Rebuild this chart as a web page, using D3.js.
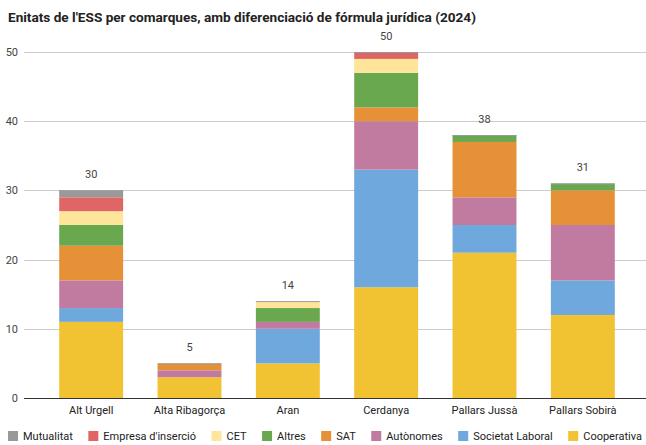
<!DOCTYPE html>
<html>
<head>
<meta charset="utf-8">
<script src="https://cdn.jsdelivr.net/npm/d3@7"></script>
<style>
  body { margin: 0; background: #fff; }
  svg { font-family: Roboto, "Noto Sans", sans-serif; display: block; }
</style>
</head>
<body>
<svg id="chart" width="646" height="445"></svg>
<script>
// Data
const comarques = ["Alt Urgell", "Alta Ribagorça", "Aran", "Cerdanya", "Pallars Jussà", "Pallars Sobirà"];
const formules = ["Cooperativa", "Societat Laboral", "Autònomes", "SAT", "Altres", "CET", "Empresa d'inserció", "Mutualitat"];
const cooperativa     = [11, 3, 5, 16, 21, 12];
const societatLaboral = [2, 0, 5, 17, 4, 5];
const autonomes       = [4, 1, 1, 7, 4, 8];
const sat             = [5, 1, 0, 2, 8, 5];
const altres          = [3, 0, 2, 5, 1, 1];
const cet             = [2, 0, 1, 2, 0, 0];
const empresaInsercio = [2, 0, 0, 1, 0, 0];
const mutualitat      = [1, 0, 0, 0, 0, 0];
const yTicks = [0, 10, 20, 30, 40, 50];
const colours = ["#f1c232", "#6fa8dc", "#c27ba0", "#e69138", "#6aa84f", "#ffe599", "#e06666", "#999999"];

const seriesValues = [cooperativa, societatLaboral, autonomes, sat, altres, cet, empresaInsercio, mutualitat];
const rows = comarques.map((c, i) => {
  const r = { comarca: c };
  formules.forEach((f, j) => r[f] = seriesValues[j][i]);
  return r;
});
const totals = rows.map(r => d3.sum(formules, f => r[f]));

const svg = d3.select("#chart");
const margin = { top: 52, bottom: 47, left: 42, right: 14 };
const width = 646, height = 445;

const xScale = d3.scaleBand()
  .domain(comarques)
  .range([margin.left, width - margin.right])
  .paddingInner(0.35)
  .paddingOuter(0.175);

const yScale = d3.scaleLinear()
  .domain([0, 50])
  .range([height - margin.bottom, margin.top]);

const colourScale = d3.scaleOrdinal().domain(formules).range(colours);

// Title
svg.append("text")
  .attr("x", 8)
  .attr("y", 22)
  .attr("font-size", 13.6)
  .attr("font-weight", "bold")
  .attr("fill", "#222")
  .text("Enitats de l'ESS per comarques, amb diferenciació de fórmula jurídica (2024)");

// Gridlines and y labels
const grid = svg.append("g");
grid.selectAll("line")
  .data(yTicks)
  .join("line")
    .attr("x1", 24)
    .attr("x2", 646)
    .attr("y1", d => Math.round(yScale(d)) + 0.5)
    .attr("y2", d => Math.round(yScale(d)) + 0.5)
    .attr("stroke", d => d === 0 ? "#333" : "#ccc")
    .attr("stroke-width", 1);

grid.selectAll("text")
  .data(yTicks)
  .join("text")
    .attr("x", 18)
    .attr("y", d => yScale(d) + 4)
    .attr("text-anchor", "end")
    .attr("font-size", 11)
    .attr("fill", "#444")
    .text(d => d);

// Stacked bars
const series = d3.stack().keys(formules)(rows);
svg.append("g")
  .selectAll("g")
  .data(series)
  .join("g")
    .attr("fill", d => colourScale(d.key))
  .selectAll("rect")
  .data(d => d)
  .join("rect")
    .attr("x", d => xScale(d.data.comarca))
    .attr("y", d => yScale(d[1]))
    .attr("height", d => yScale(d[0]) - yScale(d[1]))
    .attr("width", xScale.bandwidth());

// thin top edge on each stack
svg.append("g")
  .selectAll("line")
  .data(comarques)
  .join("line")
    .attr("x1", d => xScale(d))
    .attr("x2", d => xScale(d) + xScale.bandwidth())
    .attr("y1", (d, i) => yScale(totals[i]) + 0.5)
    .attr("y2", (d, i) => yScale(totals[i]) + 0.5)
    .attr("stroke", "#999")
    .attr("stroke-width", 1);

// Baseline on top of the bars
svg.append("line")
  .attr("x1", 24).attr("x2", 646)
  .attr("y1", Math.round(yScale(0)) + 0.5)
  .attr("y2", Math.round(yScale(0)) + 0.5)
  .attr("stroke", "#333");

// Totals
svg.append("g")
  .selectAll("text")
  .data(comarques)
  .join("text")
    .attr("x", d => xScale(d) + xScale.bandwidth() / 2)
    .attr("y", (d, i) => yScale(totals[i]) - 12)
    .attr("text-anchor", "middle")
    .attr("font-size", 11)
    .attr("fill", "#444")
    .text((d, i) => totals[i]);

// X labels
svg.append("g")
  .selectAll("text")
  .data(comarques)
  .join("text")
    .attr("x", d => xScale(d) + xScale.bandwidth() / 2)
    .attr("y", yScale(0) + 16)
    .attr("text-anchor", "middle")
    .attr("font-size", 11)
    .attr("fill", "#222")
    .text(d => d);

// Legend (reverse order, Mutualitat first)
const legendItems = formules.slice().reverse();
const legend = svg.append("g").attr("transform", "translate(8,436)");
let lx = 0;
legendItems.forEach(f => {
  const g = legend.append("g").attr("transform", `translate(${lx},0)`);
  g.append("rect")
    .attr("x", 0).attr("y", -5)
    .attr("width", 10).attr("height", 10)
    .attr("fill", colourScale(f));
  const t = g.append("text")
    .attr("x", 15).attr("y", 4)
    .attr("font-size", 11)
    .attr("fill", "#222")
    .text(f);
  lx += 15 + t.node().getComputedTextLength() + 15.5;
});
</script>
</body>
</html>
